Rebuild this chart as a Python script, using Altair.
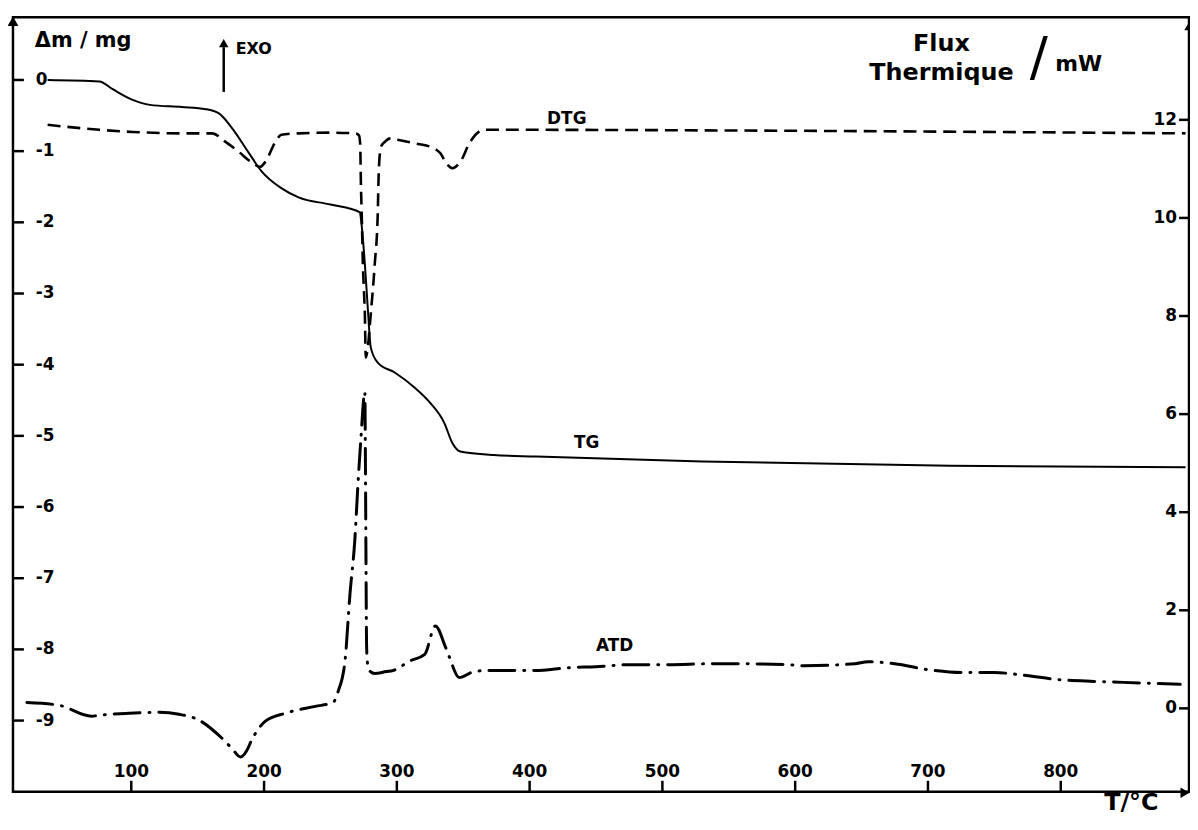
import altair as alt
import pandas as pd

# ---------------- data ----------------
# TG curve (mass change, mg) vs temperature (°C)
tg_T = [37, 76, 86, 101, 114, 138, 156, 166, 176, 188, 198, 213, 226, 250, 272.2, 272.9,
        275.9, 278.1, 280.4, 285.6, 298.4, 313.3, 325.3, 335.8, 341.8, 347.8, 373, 405, 530, 717, 894]
tg_dm = [0.0, -0.02, -0.13, -0.28, -0.35, -0.38, -0.41, -0.47, -0.68, -1.01, -1.28, -1.52, -1.65, -1.75, -1.86, -1.94,
         -2.58, -3.20, -3.76, -3.97, -4.11, -4.32, -4.54, -4.82, -5.10, -5.22, -5.27, -5.29, -5.36, -5.42, -5.44]

# DTG curve (drawn on the mass scale)
dtg_T = [37, 76, 101, 138, 161, 171, 181, 190, 197, 201, 208.5, 213, 226, 250, 268.4, 271.5, 272.4,
         272.9, 273.7, 274.4, 275.2, 275.9, 276.6, 278.1, 280.4, 283.4, 285.6, 286.4, 288, 290.9, 295.4,
         300.6, 313.3, 325.3, 332.8, 338, 341.8, 347.8, 355.2, 365.7, 388, 557, 894]
dtg_v = [-0.63, -0.70, -0.73, -0.75, -0.75, -0.87, -1.01, -1.15, -1.22, -1.15, -0.87, -0.77, -0.75, -0.74, -0.75, -0.78, -0.90,
         -1.42, -2.00, -2.58, -2.95, -3.28, -3.90, -3.76, -3.28, -2.58, -1.89, -1.28, -0.94, -0.87, -0.82,
         -0.84, -0.89, -0.94, -1.03, -1.19, -1.24, -1.15, -0.87, -0.70, -0.70, -0.71, -0.75]

# ATD curve (heat flow, mW)
atd_T = [21.4, 46, 70, 76, 98.5, 121, 136, 151, 166, 175.6, 182.3, 186.8, 190.6, 201, 216, 238.5, 252,
         255.7, 260.9, 264.7, 268.4, 270.7, 272.9, 275.9, 276.3, 276.6, 276.9, 277.2, 277.8, 279, 283.4,
         292, 297, 310, 321, 329, 336.5, 339.5, 347, 358, 366.5, 385, 404, 430, 450, 475, 503, 538, 555,
         595, 607, 645, 655, 675, 700, 725, 750, 774, 797, 825, 847, 890]
atd_mw = [0.12, 0.06, -0.16, -0.14, -0.10, -0.08, -0.12, -0.24, -0.55, -0.81, -0.99, -0.87, -0.65, -0.26, -0.10, 0.04, 0.12,
          0.34, 0.95, 2.33, 3.45, 4.56, 5.48, 6.45, 5.2, 3.8, 2.4, 1.3, 0.95, 0.78, 0.71,
          0.75, 0.77, 0.97, 1.10, 1.68, 1.26, 1.05, 0.63, 0.75, 0.77, 0.77, 0.77, 0.83, 0.85, 0.89, 0.89, 0.91, 0.91,
          0.89, 0.87, 0.91, 0.95, 0.91, 0.79, 0.73, 0.73, 0.67, 0.59, 0.55, 0.53, 0.49]

# tick values and tick labels
x_ticks = [100, 200, 300, 400, 500, 600, 700, 800]
x_tick_labels = ["100", "200", "300", "400", "500", "600", "700", "800"]
left_ticks = [0, -1, -2, -3, -4, -5, -6, -7, -8, -9]
left_tick_labels = ["0", "-1", "-2", "-3", "-4", "-5", "-6", "-7", "-8", "-9"]
right_ticks = [0, 2, 4, 6, 8, 10, 12]
right_tick_labels = ["0", "2", "4", "6", "8", "10", "12"]

# curve labels (in data units)
left_labels = ["DTG", "TG"]
left_label_T = [428, 443]
left_label_v = [-0.545, -5.10]
right_labels = ["ATD"]
right_label_T = [464]
right_label_v = [1.28]

# ---------------- chart ----------------
W, H = 1183, 779
FONT = "DejaVu Sans"

xscale = alt.Scale(domain=[10.9, 896.6], nice=False, zero=False)
lscale = alt.Scale(domain=[-10.0, 0.88], nice=False, zero=False)
rscale = alt.Scale(domain=[-1.70, 14.09], nice=False, zero=False)

X = alt.X("T:Q", scale=xscale, axis=None)
YL = alt.Y("v:Q", scale=lscale, axis=None)
YR = alt.Y("v:Q", scale=rscale, axis=None)

tg_df = pd.DataFrame({"T": tg_T, "v": tg_dm})
dtg_df = pd.DataFrame({"T": dtg_T, "v": dtg_v})
atd_df = pd.DataFrame({"T": atd_T, "v": atd_mw})
lt_df = pd.DataFrame({"v": left_ticks, "lab": left_tick_labels})
rt_df = pd.DataFrame({"v": right_ticks, "lab": right_tick_labels})
xt_df = pd.DataFrame({"T": x_ticks, "lab": x_tick_labels})

tg_line = alt.Chart(tg_df).mark_line(color="black", strokeWidth=2, interpolate="monotone").encode(x=X, y=YL)
dtg_line = alt.Chart(dtg_df).mark_line(color="black", strokeWidth=2.6, strokeDash=[13, 7],
                                       interpolate="monotone").encode(x=X, y=YL)
ltext = alt.Chart(pd.DataFrame({"T": left_label_T, "v": left_label_v, "lab": left_labels})).mark_text(
    font=FONT, fontSize=17, fontWeight="bold", color="black").encode(x=X, y=YL, text="lab:N")
# left axis: ticks pointing inwards, labels inside the frame
lticks = alt.Chart(lt_df).mark_rule(color="black", strokeWidth=2.5).encode(
    y=YL, x=alt.value(0), x2=alt.value(11))
llabels = alt.Chart(lt_df).mark_text(font=FONT, fontSize=17, fontWeight="bold", color="black",
                                     align="left", baseline="middle").encode(
    y=YL, x=alt.value(23), text="lab:N")

atd_line = alt.Chart(atd_df).mark_line(color="black", strokeWidth=3, strokeDash=[26, 9, 1, 9],
                                       strokeCap="round", interpolate="monotone").encode(x=X, y=YR)
rtext = alt.Chart(pd.DataFrame({"T": right_label_T, "v": right_label_v, "lab": right_labels})).mark_text(
    font=FONT, fontSize=17, fontWeight="bold", color="black").encode(x=X, y=YR, text="lab:N")
rticks = alt.Chart(rt_df).mark_rule(color="black", strokeWidth=2.5).encode(
    y=YR, x=alt.value(W - 10), x2=alt.value(W))
rlabels = alt.Chart(rt_df).mark_text(font=FONT, fontSize=17, fontWeight="bold", color="black",
                                     align="right", baseline="middle").encode(
    y=YR, x=alt.value(W - 12), text="lab:N")

# x axis: ticks pointing up, labels above the bottom line
xticks = alt.Chart(xt_df).mark_rule(color="black", strokeWidth=2.5).encode(
    x=X, y=alt.value(H - 11), y2=alt.value(H))
xlabels = alt.Chart(xt_df).mark_text(font=FONT, fontSize=17, fontWeight="bold", color="black",
                                     align="center", baseline="bottom").encode(
    x=X, y=alt.value(H - 11), text="lab:N")

left_layer = alt.layer(tg_line, dtg_line, ltext, lticks, llabels, xticks, xlabels)
right_layer = alt.layer(atd_line, rtext, rticks, rlabels)

one = pd.DataFrame({"k": [0]})


def txt(s, x, y, size=20, weight="bold", align="center"):
    return alt.Chart(one).mark_text(text=s, font=FONT, fontSize=size, fontWeight=weight,
                                    align=align, baseline="middle", color="black").encode(
        x=alt.value(x), y=alt.value(y))


def tri(shape, x, y, size=110):
    return alt.Chart(one).mark_point(shape=shape, filled=True, size=size, color="black", opacity=1).encode(
        x=alt.value(x), y=alt.value(y))


deco = alt.layer(
    txt("\u0394m / mg", 22, 24, 21, align="left"),
    txt("Flux", 934, 27, 24),
    txt("Thermique", 934, 56, 24),
    txt("/", 1032, 42, 54, weight="normal"),
    txt("mW", 1072, 47, 22),
    txt("EXO", 224, 32, 16, align="left"),
    txt("T/°C", 1125, 790, 24),
    alt.Chart(one).mark_rule(color="black", strokeWidth=2.5).encode(
        x=alt.value(212), y=alt.value(30), y2=alt.value(75)),
    tri("triangle-up", 212, 26, 90),
    tri("triangle-up", 0, 4, 120),
    tri("triangle-up", W, 9, 90),
    tri("triangle-right", W - 4, H + 1, 110),
)

chart = alt.layer(left_layer, right_layer, deco).resolve_scale(y="independent").properties(
    width=W, height=H,
    padding={"left": 5, "top": 7, "right": 1, "bottom": 22},
    autosize=alt.AutoSizeParams(type="none"),
    background="white",
).configure_view(stroke="black", strokeWidth=2.5)

chart.save("out.html", embed_options={"renderer": "svg", "actions": False})
